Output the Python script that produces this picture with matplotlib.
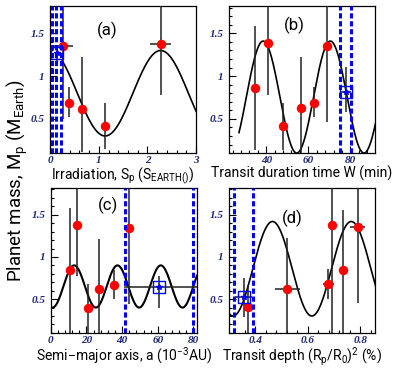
import numpy as np
import matplotlib
matplotlib.use("Agg")
import matplotlib.pyplot as plt
from matplotlib.ticker import MultipleLocator

plt.rcParams['font.family'] = ['Roboto', 'DejaVu Sans']
plt.rcParams['mathtext.fontset'] = 'custom'
plt.rcParams['mathtext.rm'] = 'Roboto'
plt.rcParams['mathtext.it'] = 'Roboto:italic'

# panel (a): irradiation
a_x = [0.27, 0.38, 0.65, 1.13, 2.27]
a_y = [1.35, 0.68, 0.62, 0.42, 1.38]
a_ylo = [0.50, 0.52, 0.11, 0.15, 0.78]
a_yhi = [1.90, 0.87, 1.22, 0.69, 1.90]
a_xerr = [0.20, 0.0, 0.0, 0.0, 0.21]
a_blue = [0.14, 1.27, 1.16, 1.32]          # x, y, ylo, yhi
a_bands = [0.05, 0.13, 0.23]
a_fit = [0.80, 0.50, 2.28, 2.27, 0.25, 3.0]  # offset, amp, period, peak, xmin, xmax

# panel (b): transit duration
b_x = [34.6, 41.0, 48.1, 56.7, 62.6, 69.0]
b_y = [0.86, 1.39, 0.42, 0.63, 0.69, 1.35]
b_ylo = [0.13, 0.78, 0.13, 0.10, 0.52, 0.46]
b_yhi = [1.59, 1.90, 0.69, 1.22, 0.87, 1.90]
b_blue = [77.8, 0.82, 0.58, 1.11]
b_bands = [75.0, 80.4]
b_fit = [0.755, 0.655, 32.0, 38.5, 27.0, 92.0]

# panel (c): semi-major axis
c_x = [10.7, 14.6, 20.7, 27.0, 35.7, 43.6]
c_y = [0.84, 1.38, 0.40, 0.62, 0.67, 1.34]
c_ylo = [0.05, 0.78, 0.05, 0.05, 0.50, 0.44]
c_yhi = [1.58, 1.90, 0.68, 1.21, 0.85, 1.90]
c_blue = [60.8, 0.64, 0.39, 0.78]
c_blue_x = [41.3, 85.0]
c_bands = [41.5, 80.0]
c_fit = [0.65, 0.25, 24.3, 13.1, 0.0, 82.0]

# panel (d): transit depth
d_x = [0.371, 0.523, 0.679, 0.693, 0.733, 0.790]
d_y = [0.41, 0.62, 0.68, 1.38, 0.85, 1.35]
d_ylo = [0.05, 0.05, 0.50, 0.05, 0.05, 0.45]
d_yhi = [0.67, 1.22, 0.86, 1.90, 1.56, 1.90]
d_xerr = [0.0, 0.047, 0.022, 0.0, 0.0, 0.028]
d_blue = [0.356, 0.52, 0.29, 0.75]
d_blue_x = [0.322, 0.389]
d_bands = [0.321, 0.390]
d_fit = [0.86, 0.56, 0.30, 0.466, 0.30, 0.86]

tick_color = '#1c2775'

fig = plt.figure(figsize=(3.94, 3.77), dpi=100)
ax_a = fig.add_axes([0.127, 0.594, 0.371, 0.390])
ax_b = fig.add_axes([0.581, 0.594, 0.371, 0.390])
ax_c = fig.add_axes([0.129, 0.117, 0.371, 0.385])
ax_d = fig.add_axes([0.581, 0.117, 0.371, 0.385])


def draw_fit(ax, p, lw=1.2):
    off, amp, per, peak, x0, x1 = p
    xs = np.linspace(x0, x1, 400)
    ax.plot(xs, off + amp * np.cos(2 * np.pi * (xs - peak) / per), color='black', lw=lw, zorder=2)


def draw_points(ax, x, y, ylo, yhi, xerr=None):
    y = np.array(y)
    yerr = [y - np.array(ylo), np.array(yhi) - y]
    ax.errorbar(x, y, yerr=yerr, xerr=xerr, fmt='none', ecolor='#222222', elinewidth=1.1, capsize=0, zorder=3)
    ax.plot(x, y, 'o', color='red', ms=5.8, mec='red', zorder=4)


def draw_blue(ax, b, bands, xr=None):
    x, y, ylo, yhi = b
    xerr = None
    if xr is not None:
        xerr = [[x - xr[0]], [xr[1] - x]]
    ax.errorbar([x], [y], yerr=[[y - ylo], [yhi - y]], xerr=xerr, fmt='none',
                ecolor='#222222', elinewidth=1.1, capsize=0, zorder=3)
    for bx in bands:
        ax.axvline(bx, color='blue', lw=2.2, ls=(0, (1.7, 0.9)), zorder=5)
    ax.plot([x], [y], 's', mfc='none', mec='blue', ms=8, mew=1.0, zorder=6)
    ax.plot([x], [y], '*', color='blue', ms=4, zorder=6)


def fmt_tick(v, pos):
    return '%g' % v


def style(ax, xlim, xmaj, xmin_, label, tag, tagpos):
    ax.set_xlim(*xlim)
    ax.set_ylim(0.1, 1.82)
    ax.xaxis.set_major_locator(MultipleLocator(xmaj))
    ax.xaxis.set_minor_locator(MultipleLocator(xmin_))
    ax.yaxis.set_major_locator(MultipleLocator(0.5))
    ax.yaxis.set_minor_locator(MultipleLocator(0.1))
    ax.xaxis.set_major_formatter(plt.FuncFormatter(fmt_tick))
    ax.yaxis.set_major_formatter(plt.FuncFormatter(fmt_tick))
    ax.tick_params(which='both', direction='in', top=False, right=False, width=0.8)
    ax.tick_params(which='major', length=5)
    ax.tick_params(which='minor', length=2.5)
    ax.tick_params(axis='x', which='major', pad=2)
    ax.tick_params(axis='y', which='major', pad=4)
    for lab in ax.get_xticklabels() + ax.get_yticklabels():
        lab.set_fontfamily('Liberation Serif')
        lab.set_fontstyle('italic')
        lab.set_fontweight('bold')
        lab.set_fontsize(8)
        lab.set_color(tick_color)
    ax.set_xlabel(label, fontsize=10, labelpad=0.5)
    ax.text(tagpos[0], tagpos[1], tag, transform=ax.transAxes, fontsize=12,
            ha='center', va='center')
    for s in ax.spines.values():
        s.set_linewidth(0.9)


# (a)
draw_fit(ax_a, a_fit)
draw_points(ax_a, a_x, a_y, a_ylo, a_yhi, a_xerr)
draw_blue(ax_a, a_blue, a_bands)
style(ax_a, (0, 3), 1, 0.2, r'Irradiation, S$_\mathrm{p}$ (S$_\mathrm{EARTH()}$)', '(a)', (0.39, 0.837))

# (b)
draw_fit(ax_b, b_fit)
draw_points(ax_b, b_x, b_y, b_ylo, b_yhi)
draw_blue(ax_b, b_blue, b_bands, xr=b_bands)
style(ax_b, (22.2, 91.8), 20, 4, 'Transit duration time W (min)', '(b)', (0.445, 0.87))

# (c)
draw_fit(ax_c, c_fit, lw=1.5)
draw_points(ax_c, c_x, c_y, c_ylo, c_yhi)
draw_blue(ax_c, c_blue, c_bands, xr=c_blue_x)
style(ax_c, (0, 82), 20, 4, r'Semi$-$major axis, a (10$^{-3}$AU)', '(c)', (0.39, 0.876))

# (d)
draw_fit(ax_d, d_fit)
draw_points(ax_d, d_x, d_y, d_ylo, d_yhi, d_xerr)
draw_blue(ax_d, d_blue, d_bands, xr=d_blue_x)
style(ax_d, (0.3, 0.857), 0.2, 0.04, r'Transit depth (R$_\mathrm{p}$/R$_0$)$^2$ (%)', '(d)', (0.432, 0.79))

fig.text(0.045, 0.52, r'Planet mass, M$_\mathrm{p}$ (M$_\mathrm{Earth}$)', rotation=90,
         ha='center', va='center', fontsize=13.5)

fig.savefig('out.png', dpi=100)
